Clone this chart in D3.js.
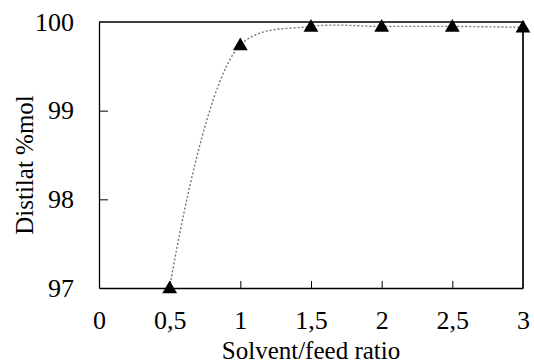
<!DOCTYPE html>
<html>
<head>
<meta charset="utf-8">
<script src="https://cdn.jsdelivr.net/npm/d3@7"></script>
<style>
  body { margin: 0; background: #fff; }
  svg text { font-family: "Liberation Serif", serif; fill: #000; }
</style>
</head>
<body>
<svg id="chart" width="534" height="361"></svg>
<script>
// data
const ratios = [0.5, 1, 1.5, 2, 2.5, 3];
const distilat = [97.0, 99.74, 99.95, 99.95, 99.95, 99.94];
const xTicks = [0, 0.5, 1, 1.5, 2, 2.5, 3];
const yTicks = [97, 98, 99, 100];

const width = 534;
const height = 361;
const margin = { top: 22, right: 11, bottom: 73, left: 99 };

const svg = d3.select("#chart");

const x = d3.scaleLinear().domain([0, 3]).range([margin.left, width - margin.right]);
const y = d3.scaleLinear().domain([97, 100]).range([height - margin.bottom, margin.top]);

const fmt = (d) => String(d).replace(".", ",");

// frame (top and right sides)
svg.append("path")
  .attr("d", `M${x(0)},${y(100)}H${x(3)}V${y(97)}`)
  .attr("fill", "none")
  .attr("stroke", "#000")
  .attr("stroke-width", 1.7);

// x axis, ticks pointing inward
const xAxis = d3.axisBottom(x)
  .tickValues(xTicks)
  .tickFormat(fmt)
  .tickSizeInner(-7)
  .tickSizeOuter(0)
  .tickPadding(23);

const gx = svg.append("g")
  .attr("transform", `translate(0, ${y(97)})`)
  .call(xAxis);
gx.select(".domain").attr("stroke-width", 1.3);
gx.selectAll(".tick line")
  .attr("display", (d) => (d === 0 || d === 3 ? "none" : null));
gx.selectAll(".tick text")
  .style("font-family", "'Liberation Serif', serif")
  .style("font-size", "26px");

// y axis, ticks pointing inward
const yAxis = d3.axisLeft(y)
  .tickValues(yTicks)
  .tickFormat(d3.format("d"))
  .tickSizeInner(-9)
  .tickSizeOuter(0)
  .tickPadding(25);

const gy = svg.append("g")
  .attr("transform", `translate(${x(0)}, 0)`)
  .call(yAxis);
gy.select(".domain").attr("stroke-width", 1.3);
gy.selectAll(".tick line")
  .attr("display", (d) => (d === 97 || d === 100 ? "none" : null));
gy.selectAll(".tick text")
  .style("font-family", "'Liberation Serif', serif")
  .style("font-size", "26px");

const pts = ratios.map((r, i) => [r, distilat[i]]);

// smoothed dotted trend
const line = d3.line()
  .x((d) => x(d[0]))
  .y((d) => y(d[1]))
  .curve(d3.curveCatmullRom.alpha(0.5));

svg.append("path")
  .datum(pts)
  .attr("d", line)
  .attr("fill", "none")
  .attr("stroke", "#777")
  .attr("stroke-width", 1.4)
  .attr("stroke-dasharray", "2,2");

// triangle markers
svg.append("g")
  .selectAll("path")
  .data(pts)
  .enter()
  .append("path")
  .attr("d", d3.symbol().type(d3.symbolTriangle).size(95))
  .attr("transform", (d) => `translate(${x(d[0])}, ${y(d[1]) + 1})`)
  .attr("fill", "#000");

// axis titles
svg.append("text")
  .attr("x", x(1.5))
  .attr("y", 359)
  .attr("text-anchor", "middle")
  .style("font-size", "25px")
  .text("Solvent/feed ratio");

svg.append("text")
  .attr("transform", `translate(33, 165) rotate(-90)`)
  .attr("text-anchor", "middle")
  .style("font-size", "25px")
  .text("Distilat %mol");
</script>
</body>
</html>
